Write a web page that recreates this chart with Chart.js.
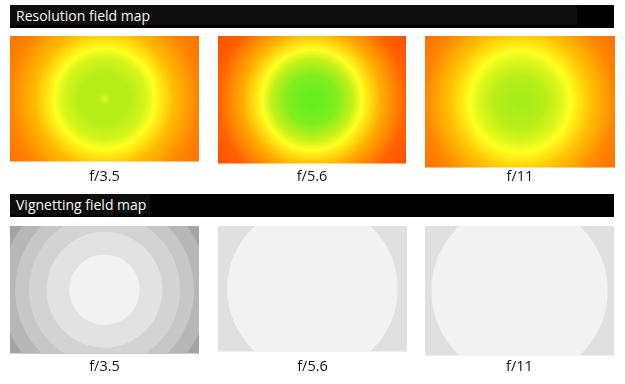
<!DOCTYPE html>
<html><head><meta charset="utf-8">
<script src="https://cdn.jsdelivr.net/npm/chart.js@4"></script>
<style>
html,body{margin:0;padding:0;background:#fff;width:625px;height:384px;overflow:hidden;position:relative;font-family:"Open Sans",sans-serif}
.bar{position:absolute;left:10px;width:604px;height:23px;background:#000}
.inner{position:absolute;left:0;top:0;height:20px;background:#0e0e0e}
.bar span{position:absolute;left:6px;top:2px;color:#f6f6f6;font-size:14px;line-height:18px;white-space:nowrap}
canvas{position:absolute}
</style></head><body>
<div class="bar" style="top:5px"><div class="inner" style="width:567px"></div><span>Resolution field map</span></div>
<div class="bar" style="top:194px"><div class="inner" style="width:140px"></div><span>Vignetting field map</span></div>
<canvas id="r0"></canvas><canvas id="r1"></canvas><canvas id="r2"></canvas>
<canvas id="v0"></canvas><canvas id="v1"></canvas><canvas id="v2"></canvas>
<script>
// ---- data ----
const apertures = ["f/3.5", "f/5.6", "f/11"];
// radial sample positions (units of image half-height; image is 3:2)
const resRadius = [0, 0.1, 0.4, 0.65, 0.8, 1.1, 1.5, 1.85];
// relative resolution score (0 = worst, 1 = best) at each radius
const resF35 = [0.70, 0.80, 0.80, 0.72, 0.60, 0.44, 0.28, 0.21];
const resF56 = [0.98, 0.98, 0.92, 0.76, 0.60, 0.40, 0.15, 0.04];
const resF11 = [0.84, 0.84, 0.80, 0.70, 0.60, 0.46, 0.29, 0.21];
// vignetting zones: outer radius of each zone and its brightness level
const vigF35Radius = [2.0, 1.65, 1.42, 1.20, 0.92, 0.56];
const vigF35Level  = [163, 183, 199, 211, 226, 242];
const vigF56Radius = [2.0, 1.354];
const vigF56Level  = [224, 242];
const vigF11Radius = [2.0, 1.40];
const vigF11Level  = [224, 242];

// ---- colour scale for resolution ----
const cmapStops = [[0.0,[255,68,0]],[0.2,[255,106,0]],[0.3,[255,138,0]],[0.45,[255,192,0]],[0.6,[255,255,32]],[0.8,[184,238,24]],[1.0,[92,238,34]]];
function cmap(v){
  for(let i=1;i<cmapStops.length;i++){
    const [a,ca]=cmapStops[i-1],[b,cb]=cmapStops[i];
    if(v<=b){const t=(v-a)/(b-a);return 'rgb('+ca.map((c,k)=>Math.round(c+(cb[k]-c)*t)).join(',')+')';}
  }
  return 'rgb('+cmapStops[cmapStops.length-1][1].join(',')+')';
}

function unitPx(chart){
  const xs=chart.scales&&chart.scales.x; if(!xs) return 0;
  const v=Math.abs(xs.getPixelForValue(1)-xs.getPixelForValue(0));
  return isFinite(v)?v:0;
}

function makePanel(id, box, labelY, label, data, colorFn){
  const cv=document.getElementById(id);
  const lh=16.8;
  const pt=labelY-lh/2-(box.y+box.h);
  const H=Math.ceil(labelY-box.y+12);
  const pb=H-box.h-pt-lh;
  cv.width=box.w;cv.height=H;
  cv.style.left=box.x+'px';cv.style.top=box.y+'px';
  new Chart(cv,{
    type:'scatter',
    data:{datasets:[{data:data,clip:0,pointBorderWidth:0,
      pointHoverRadius:ctx=>ctx.raw?unitPx(ctx.chart)*ctx.raw.rad:0,
      pointRadius:ctx=>ctx.raw?unitPx(ctx.chart)*ctx.raw.rad:0,
      pointBackgroundColor:ctx=>colorFn(ctx)}]},
    options:{responsive:false,animation:false,events:[],
      layout:{padding:0},
      scales:{x:{type:'linear',min:-1.5,max:1.5,display:false},y:{type:'linear',min:-1,max:1,display:false}},
      plugins:{legend:{display:false},tooltip:{enabled:false},
        title:{display:true,text:label,position:'bottom',color:'#111111',
          font:{family:'"Open Sans"',size:14.5,weight:'normal',lineHeight:1.2},padding:{top:pt,bottom:pb}}}}
  });
}

function resPanel(id, box, labelY, label, vals){
  const maxR=resRadius[resRadius.length-1];
  const data=[{x:0,y:0,rad:maxR}];
  makePanel(id, box, labelY, label, data, ctx=>{
    const ch=ctx.chart, xs=ch.scales&&ch.scales.x, ys=ch.scales&&ch.scales.y;
    if(!xs||!ys) return cmap(vals[vals.length-1]);
    const cx=xs.getPixelForValue(0), cy=ys.getPixelForValue(0), u=unitPx(ch);
    if(!isFinite(cx)||!isFinite(cy)||!(u>0)) return cmap(vals[vals.length-1]);
    const g=ch.ctx.createRadialGradient(cx,cy,0,cx,cy,maxR*u);
    resRadius.forEach((r,i)=>g.addColorStop(r/maxR,cmap(vals[i])));
    return g;
  });
}
function vigPanel(id, box, labelY, label, radii, levels){
  const data=radii.map((r,i)=>({x:0,y:0,rad:r,lvl:levels[i]}));
  makePanel(id, box, labelY, label, data, ctx=>{const l=ctx.raw?ctx.raw.lvl:224;return 'rgb('+l+','+l+','+l+')';});
}

resPanel('r0',{x:10,y:36,w:189,h:126},177.5,apertures[0],resF35);
resPanel('r1',{x:218,y:36,w:188,h:128},177.5,apertures[1],resF56);
resPanel('r2',{x:425,y:36,w:190,h:132},177.5,apertures[2],resF11);
vigPanel('v0',{x:10,y:226,w:189,h:128},367.5,apertures[0],vigF35Radius,vigF35Level);
vigPanel('v1',{x:218,y:226,w:189,h:126},367.5,apertures[1],vigF56Radius,vigF56Level);
vigPanel('v2',{x:425,y:226,w:189,h:130},367.5,apertures[2],vigF11Radius,vigF11Level);
</script>
</body></html>
